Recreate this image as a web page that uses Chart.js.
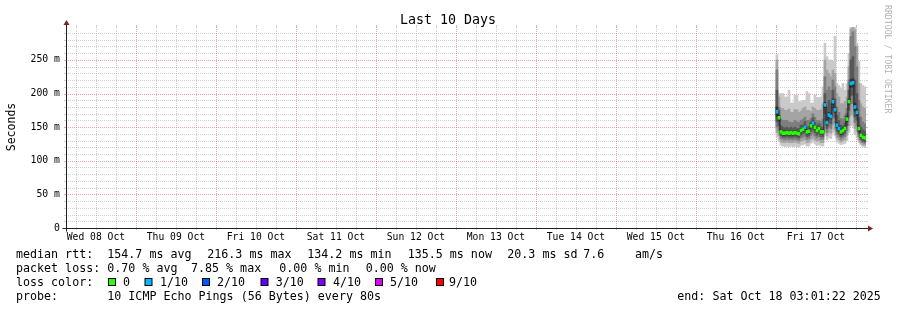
<!DOCTYPE html>
<html lang="en">
<head>
<meta charset="UTF-8">
<title>Last 10 Days</title>
<script src="https://cdn.jsdelivr.net/npm/chart.js@4.4.0/dist/chart.umd.min.js"></script>
<style>
  html, body { margin: 0; padding: 0; background: #fff; }
  canvas { display: block; }
</style>
</head>
<body>
<canvas id="smoke" width="897" height="310"></canvas>
<script>
// hours since Wed 08 Oct 00:00
const viewStart = 3.02, viewEnd = 243.02;
const stepStart = 216.3, stepHours = 0.6;
const dayLabels = ['Wed 08 Oct', 'Thu 09 Oct', 'Fri 10 Oct', 'Sat 11 Oct', 'Sun 12 Oct',
                   'Mon 13 Oct', 'Tue 14 Oct', 'Wed 15 Oct', 'Thu 16 Oct', 'Fri 17 Oct'];
const dayNoons = [12, 36, 60, 84, 108, 132, 156, 180, 204, 228];
const yTicks = [0, 50, 100, 150, 200, 250];

// median rtt (ms) and lost pings (of 10) per step
const median = [173,164,143,141,141,142,141,142,141,142,141,140,145,147,150,143,144,152,156,150,145,148,143,143,
                183,157,168,166,188,176,153,148,143,145,148,162,188,215,216,180,172,148,138,135,134,136];
const lost = [1,0,0,0,0,0,0,0,0,0,0,0,0,0,1,0,0,0,1,0,0,0,0,0,
              1,1,1,1,1,1,1,1,0,0,0,0,0,1,1,1,1,0,0,0,0,0];

// sorted ping rtts (ms), rtt1 lowest .. rtt10 highest
const rtt10 = [258,200,200,200,195,195,205,186,186,198,198,188,188,190,190,203,200,186,186,198,194,194,195,210,
               275,255,250,250,248,285,215,212,208,215,205,215,260,299,299,299,275,248,215,212,210,205];
const rtt9 = [250,195,178,178,175,175,177,172,172,176,176,172,174,178,180,175,175,173,180,178,175,175,176,185,
              250,235,230,225,235,230,200,195,185,185,188,195,240,296,298,295,270,215,185,180,178,170];
const rtt8 = [235,180,162,160,160,160,158,157,157,160,158,157,160,162,165,160,160,163,170,165,160,160,158,162,
              225,205,210,205,220,210,180,172,163,162,168,178,220,285,292,270,240,190,165,158,155,152];
const rtt7 = [205,175,152,150,149,150,148,150,148,150,148,148,153,153,158,150,151,158,164,157,152,155,150,150,
              200,180,190,185,205,192,168,160,153,152,156,170,205,250,255,220,200,165,150,146,144,144];
const rtt6 = [180,168,146,144,144,145,144,145,144,145,144,143,148,150,153,146,147,155,159,153,148,151,146,146,
              187,161,172,170,192,180,157,152,147,149,151,166,192,221,222,186,177,152,141,138,137,139];
const rtt5 = [166,159,140,138,138,139,138,139,138,139,138,137,142,144,147,140,141,149,153,147,142,145,140,140,
              179,153,164,162,184,172,149,144,139,141,145,158,184,209,210,174,167,144,135,132,131,133];
const rtt4 = [158,152,137,135,135,136,135,135,135,136,135,134,138,140,142,136,137,144,147,142,138,141,136,136,
              170,148,157,155,175,164,144,140,136,138,141,152,175,197,198,165,160,140,132,129,128,130];
const rtt3 = [150,145,133,132,131,132,131,132,131,132,131,130,134,135,137,132,133,138,141,137,134,136,132,132,
              160,142,150,148,165,156,139,136,132,134,136,145,165,185,185,157,152,136,129,127,126,127];
const rtt2 = [142,138,128,127,127,128,127,127,127,128,127,126,129,130,131,127,128,132,134,131,129,130,127,127,
              150,137,142,141,153,146,134,131,128,130,131,138,152,168,168,148,143,131,126,124,123,124];
const rtt1 = [135,130,123,122,121,122,121,122,121,122,121,120,123,124,125,122,122,126,128,125,123,124,122,122,
              140,131,134,133,142,137,128,126,124,125,126,130,142,152,152,139,135,127,123,121,120,121];

const lossColors = { 0: '#26ff00', 1: '#00b8ff', 2: '#0059ff', 3: '#5e00ff', 4: '#7e00ff', 5: '#dd00ff', 9: '#ff0000' };
const times = median.map((_, i) => stepStart + i * stepHours);

const MONO = "'DejaVu Sans Mono', monospace";
const lossHalf = 2.2;

const bands = [
    [rtt1, rtt10, '#cacaca'],
    [rtt2, rtt9, '#a4a4a4'],
    [rtt3, rtt8, '#7e7e7e'],
    [rtt4, rtt7, '#585858'],
    [rtt5, rtt6, '#323232']
];

const barOpts = { type: 'bar', grouped: false, barPercentage: 1, categoryPercentage: 1, borderWidth: 0 };

const datasets = bands.map(([lo, hi, col], k) => Object.assign({}, barOpts, {
    data: times.map((t, i) => ({ x: t, y: [lo[i], hi[i]] })),
    backgroundColor: col,
    order: 10 - k
}));

datasets.push({
    type: 'line',
    data: times.map((t, i) => ({ x: t, y: median[i] })),
    borderColor: '#202020',
    borderWidth: 1,
    pointRadius: 0,
    stepped: 'middle',
    order: 2
});

datasets.push(Object.assign({}, barOpts, {
    data: times.map((t, i) => ({ x: t, y: [median[i] - lossHalf, median[i] + lossHalf] })),
    backgroundColor: lost.map(n => lossColors[n]),
    order: 1
}));

function dotted(ctx, x1, y1, x2, y2, color) {
    ctx.save();
    ctx.strokeStyle = color;
    ctx.lineWidth = 1;
    ctx.setLineDash([1, 1]);
    ctx.beginPath();
    ctx.moveTo(x1, y1);
    ctx.lineTo(x2, y2);
    ctx.stroke();
    ctx.restore();
}

const rrdFrame = {
    id: 'rrdFrame',
    beforeDatasetsDraw(chart) {
        const { ctx, chartArea: a, scales: { x, y } } = chart;
        const minor = 'rgba(143,143,143,0.42)', major = 'rgba(222,79,79,0.5)';
        // horizontal grid, 10 ms minor / 50 ms major
        for (let v = 10; v < y.max; v += 10) {
            const py = Math.round(y.getPixelForValue(v)) + 0.5;
            const col = v % 50 === 0 ? major : minor;
            dotted(ctx, a.left, py, a.right, py, col);
            ctx.fillStyle = col;
            ctx.fillRect(a.left - 2, py - 0.5, 2, 1);
            ctx.fillRect(a.right, py - 0.5, 2, 1);
        }
        // vertical grid, 6 h minor / 24 h major
        for (let h = Math.ceil(x.min / 6) * 6; h <= x.max; h += 6) {
            const px = Math.round(x.getPixelForValue(h)) + 0.5;
            const col = h % 24 === 0 ? major : minor;
            dotted(ctx, px, a.top, px, a.bottom, col);
            ctx.fillStyle = col;
            ctx.fillRect(px - 0.5, a.bottom, 1, 2);
            ctx.fillRect(px - 0.5, a.top - 2, 1, 2);
        }
    },
    afterDraw(chart) {
        const { ctx, chartArea: a } = chart;
        const x0 = Math.round(a.left) + 0.5, y0 = Math.round(a.bottom) + 0.5;
        ctx.save();
        // axes
        ctx.strokeStyle = '#1f1f1f';
        ctx.lineWidth = 1;
        ctx.beginPath();
        ctx.moveTo(x0 - 4, y0); ctx.lineTo(a.right + 4, y0);
        ctx.moveTo(x0, y0 + 3); ctx.lineTo(x0, a.top - 4);
        ctx.stroke();
        // arrows
        ctx.fillStyle = '#801f1f';
        ctx.beginPath();
        ctx.moveTo(x0 - 3, a.top - 2); ctx.lineTo(x0 + 3, a.top - 2); ctx.lineTo(x0, a.top - 7);
        ctx.closePath(); ctx.fill();
        ctx.beginPath();
        ctx.moveTo(a.right + 2, y0 - 3); ctx.lineTo(a.right + 2, y0 + 3); ctx.lineTo(a.right + 7, y0);
        ctx.closePath(); ctx.fill();

        // title
        ctx.fillStyle = '#000';
        ctx.textBaseline = 'alphabetic';
        ctx.font = '13.3px ' + MONO;
        ctx.textAlign = 'center';
        ctx.fillText('Last 10 Days', 448, 24);

        // vertical axis title
        ctx.font = '11.5px ' + MONO;
        ctx.save();
        ctx.translate(15, 127);
        ctx.rotate(-Math.PI / 2);
        ctx.fillText('Seconds', 0, 0);
        ctx.restore();

        // watermark
        ctx.save();
        ctx.fillStyle = '#b4b4b4';
        ctx.font = '8.2px ' + MONO;
        ctx.textAlign = 'left';
        ctx.translate(885, 5);
        ctx.rotate(Math.PI / 2);
        ctx.fillText('RRDTOOL / TOBI OETIKER', 0, 0);
        ctx.restore();

        // legend
        ctx.font = '11.66px ' + MONO;
        ctx.textAlign = 'left';
        ctx.fillStyle = '#000';
        const rows = [
            [258, [[16, 'median rtt:'], [107.3, '154.7 ms avg'], [207.3, '216.3 ms max'], [307.3, '134.2 ms min'],
                   [407.7, '135.5 ms now'], [507.3, '20.3 ms sd'], [583.3, '7.6'], [635, 'am/s']]],
            [272, [[16, 'packet loss:'], [107.3, '0.70 % avg'], [191, '7.85 % max'], [279.3, '0.00 % min'],
                   [365.7, '0.00 % now']]],
            [286, [[16, 'loss color:']]],
            [300, [[16, 'probe:'], [107.3, '10 ICMP Echo Pings (56 Bytes) every 80s'],
                   [677.3, 'end: Sat Oct 18 03:01:22 2025']]]
        ];
        rows.forEach(([by, parts]) => parts.forEach(([px, s]) => ctx.fillText(s, px, by)));

        const keys = [[0, '0', 108, 123], [1, '1/10', 144.5, 160], [2, '2/10', 202, 217], [3, '3/10', 260.5, 275.7],
                      [4, '4/10', 317.5, 333], [5, '5/10', 375, 390], [9, '9/10', 436, 449]];
        keys.forEach(([n, label, bx, tx]) => {
            ctx.fillStyle = lossColors[n];
            ctx.fillRect(bx + 0.5, 278.5, 7, 7);
            ctx.strokeStyle = '#000';
            ctx.strokeRect(bx + 0.5, 278.5, 7, 7);
            ctx.fillStyle = '#000';
            ctx.fillText(label, tx, 286);
        });
        ctx.restore();
    }
};

new Chart(document.getElementById('smoke'), {
    type: 'bar',
    data: { datasets },
    plugins: [rrdFrame],
    options: {
        responsive: false,
        animation: false,
        devicePixelRatio: 1,
        layout: { padding: { top: 27, right: 31, left: 0, bottom: 0 } },
        plugins: { legend: { display: false }, tooltip: { enabled: false } },
        scales: {
            x: {
                type: 'linear',
                min: viewStart,
                max: viewEnd,
                offset: false,
                grid: { display: false, drawTicks: false },
                border: { display: false },
                afterBuildTicks: s => { s.ticks = dayNoons.map(v => ({ value: v })); },
                afterFit: s => { s.height = 82; },
                ticks: {
                    autoSkip: false,
                    maxRotation: 0,
                    padding: 4,
                    color: '#000',
                    font: { family: MONO, size: 9.7 },
                    callback: v => dayLabels[dayNoons.indexOf(v)] || ''
                }
            },
            y: {
                min: 0,
                max: 299,
                grid: { display: false, drawTicks: false },
                border: { display: false },
                afterBuildTicks: s => { s.ticks = yTicks.map(v => ({ value: v })); },
                afterFit: s => { s.width = 66; },
                ticks: {
                    padding: 6,
                    color: '#000',
                    font: { family: MONO, size: 9.8 },
                    callback: v => v === 0 ? '0' : v + ' m'
                }
            }
        }
    }
});
</script>
</body>
</html>
